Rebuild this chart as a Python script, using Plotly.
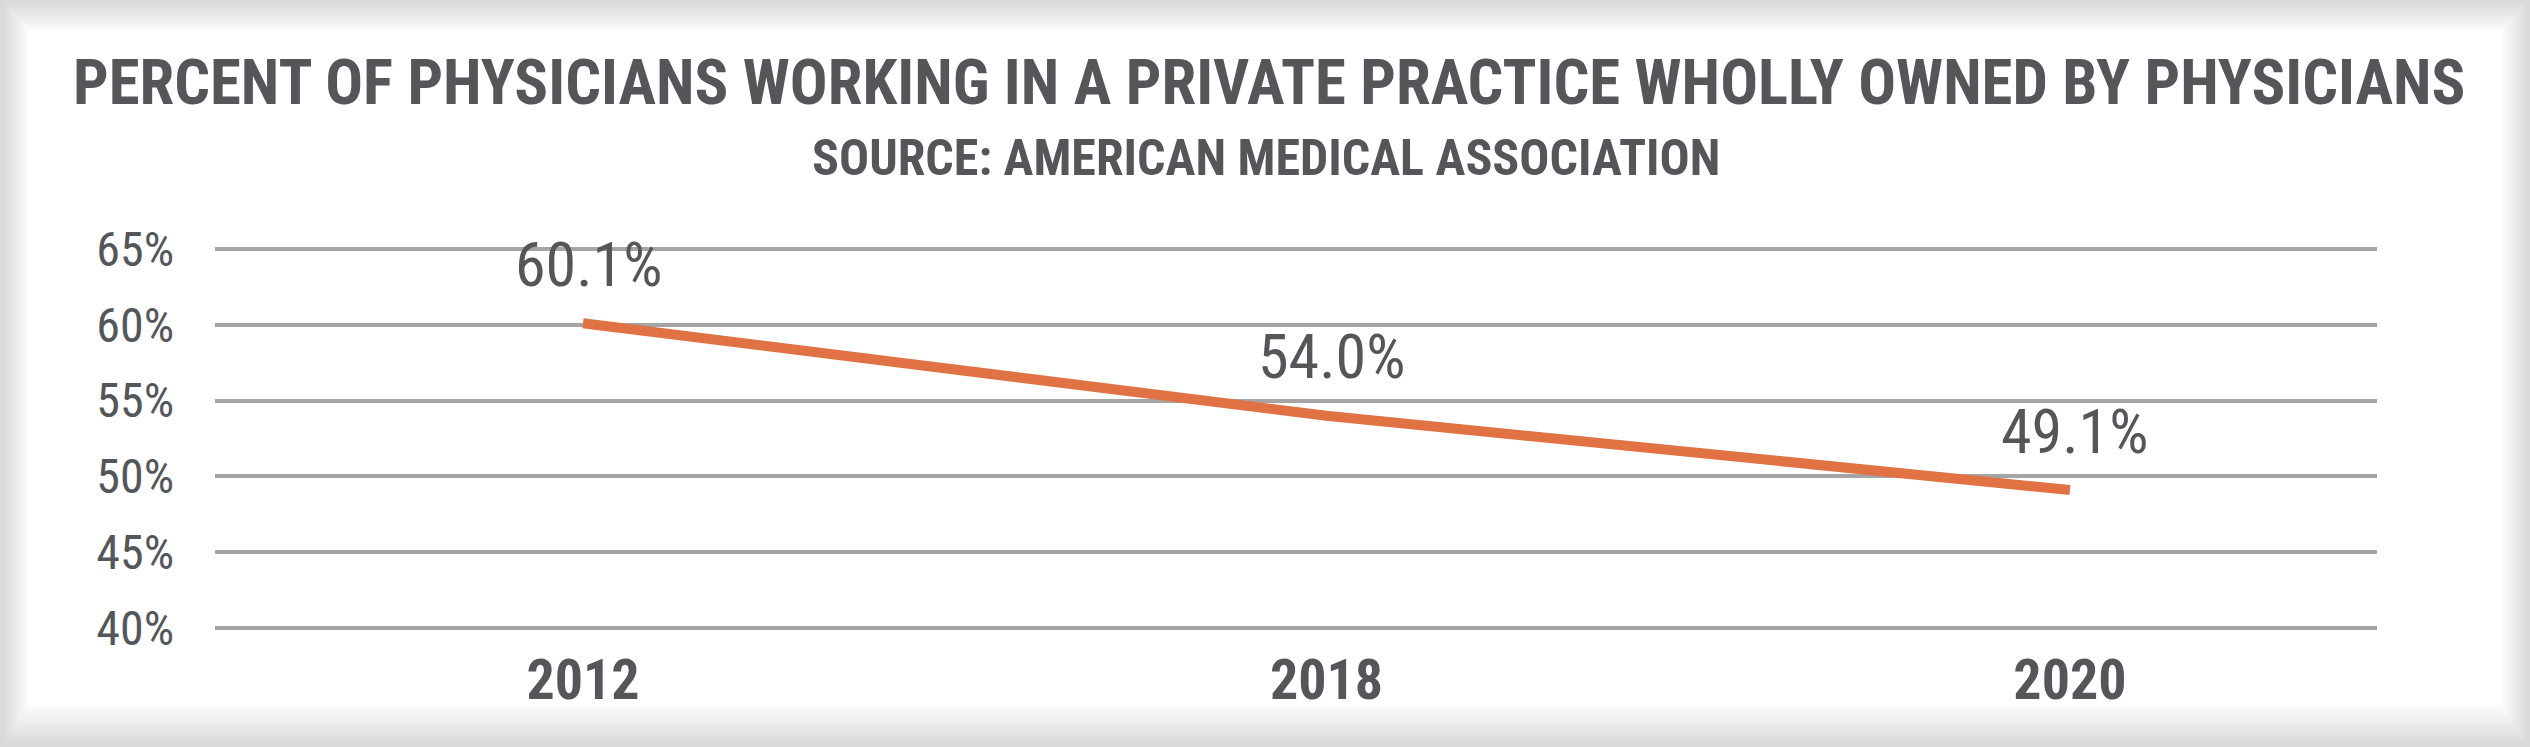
import plotly.graph_objects as go

# data
years = ["2012", "2018", "2020"]
pct_wholly_owned = [60.1, 54.0, 49.1]
point_labels = ["60.1%", "54.0%", "49.1%"]
y_ticks = [40, 45, 50, 55, 60, 65]
y_tick_labels = ["40%", "45%", "50%", "55%", "60%", "65%"]

title_text = "PERCENT OF PHYSICIANS WORKING IN A PRIVATE PRACTICE WHOLLY OWNED BY PHYSICIANS"
subtitle_text = "SOURCE: AMERICAN MEDICAL ASSOCIATION"

W, H = 2530, 747
ML, MR, MT, MB = 215, 153, 246, 116
TEXT = "#54565A"
FONT = "Roboto Condensed, DejaVu Sans Condensed, sans-serif"


def paper_x(px):
    return (px - ML) / (W - ML - MR)


def paper_y(py):
    return (H - MB - py) / (H - MT - MB)


# soft grey frame around the white card, faked with stacked rectangles
shapes = []
steps = 10
for i in range(steps + 1):
    t = i / steps
    g = int(0xDA + (0xFF - 0xDA) * t)
    shapes.append(dict(
        type="rect", xref="paper", yref="paper", layer="below",
        x0=paper_x(2 + 26 * t), x1=paper_x(W - 2 - 26 * t),
        y0=paper_y(H - 2 - 40 * t), y1=paper_y(1 + 30 * t),
        fillcolor=f"rgb({g},{g},{g})", line=dict(width=0),
    ))

fig = go.Figure()
fig.add_trace(go.Scatter(
    x=years, y=pct_wholly_owned,
    mode="lines",
    line=dict(color="#E07244", width=10),
    hoverinfo="skip",
))

annotations = [
    dict(text=title_text, xref="paper", yref="paper",
         x=paper_x(1269), y=paper_y(82), xanchor="center", yanchor="middle",
         showarrow=False,
         font=dict(family=FONT, size=62.8, color=TEXT, weight="bold")),
    dict(text=subtitle_text, xref="paper", yref="paper",
         x=paper_x(1266), y=paper_y(158), xanchor="center", yanchor="middle",
         showarrow=False,
         font=dict(family=FONT, size=50, color=TEXT, weight="bold")),
]
# value labels sit above each point (x given as category index)
for i, (v, lab) in enumerate(zip(pct_wholly_owned, point_labels)):
    annotations.append(dict(
        x=i, y=v, text=lab, xref="x", yref="y",
        showarrow=False, xanchor="center", yanchor="middle",
        xshift=5, yshift=59,
        font=dict(family=FONT, size=62, color=TEXT),
    ))

fig.update_layout(
    width=W, height=H,
    margin=dict(l=ML, r=MR, t=MT, b=MB),
    paper_bgcolor="#DADADA",
    plot_bgcolor="rgba(0,0,0,0)",
    showlegend=False,
    shapes=shapes,
    font=dict(family=FONT, color=TEXT),
    annotations=annotations,
)

fig.update_xaxes(
    type="category",
    range=[-0.495, 2.413],
    showgrid=False, zeroline=False, showline=False, ticks="",
    tickfont=dict(family=FONT, size=56, color=TEXT, weight="bold"),
    ticklabelstandoff=11,
)
fig.update_yaxes(
    range=[39.8, 65.2],
    tickvals=y_ticks, ticktext=y_tick_labels,
    showgrid=True, gridcolor="#A5A5A5", gridwidth=3.5,
    zeroline=False, showline=False, ticks="",
    tickfont=dict(family=FONT, size=48, color=TEXT),
    ticklabelstandoff=40,
)

# drop the default body margin so the figure fills the window exactly
fig.write_html("out.html", config={"displayModeBar": False},
               post_script="document.body.style.margin='0';")
